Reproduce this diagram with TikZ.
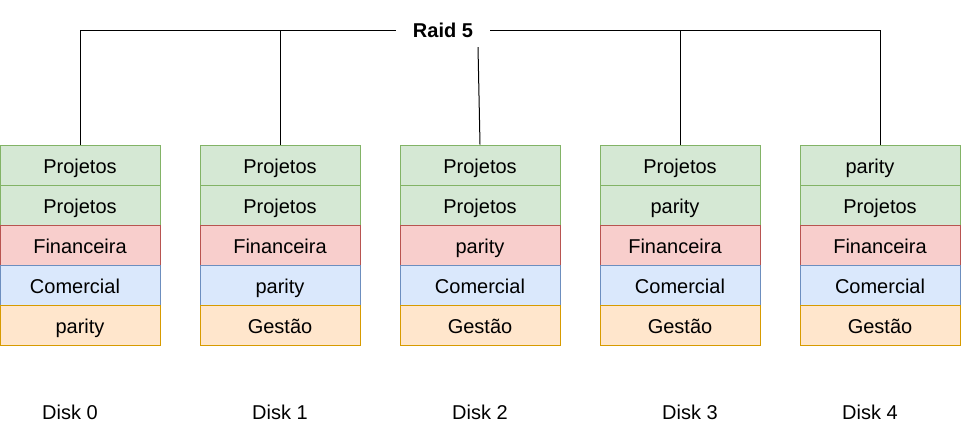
\documentclass[tikz,border=0pt]{standalone}
\usepackage{fontspec}
\setmainfont{Liberation Sans}
\definecolor{gfill}{HTML}{D5E8D4}\definecolor{gline}{HTML}{82B366}
\definecolor{rfill}{HTML}{F8CECC}\definecolor{rline}{HTML}{B85450}
\definecolor{bfill}{HTML}{DAE8FC}\definecolor{bline}{HTML}{6C8EBF}
\definecolor{ofill}{HTML}{FFE6CC}\definecolor{oline}{HTML}{D79B00}
\begin{document}
\begin{tikzpicture}[x=1pt,y=-1pt,
  every node/.style={font=\fontsize{20}{24}\selectfont, inner sep=0pt},
  cell/.style={rectangle, minimum width=160pt, minimum height=40pt, line width=1pt, text height=20pt, text depth=4pt},
  grn/.style={cell, fill=gfill, draw=gline},
  red/.style={cell, fill=rfill, draw=rline},
  blu/.style={cell, fill=bfill, draw=bline},
  org/.style={cell, fill=ofill, draw=oline},
  disklbl/.style={text height=20pt, text depth=4pt},
  wire/.style={line width=1pt, draw=black}]
\useasboundingbox (0,0) rectangle (961,426);
% Disk 0
\node[grn] (c0-0) at (80,165) {Projetos};
\node[grn] (c0-1) at (80,205) {Projetos};
\node[red] (c0-2) at (80,245) {Financeira};
\node[blu] (c0-3) at (80,285) {\hspace*{-10pt}Comercial};
\node[org] (c0-4) at (80,325) {parity};
% Disk 1
\node[grn] (c1-0) at (280,165) {Projetos};
\node[grn] (c1-1) at (280,205) {Projetos};
\node[red] (c1-2) at (280,245) {Financeira};
\node[blu] (c1-3) at (280,285) {parity};
\node[org] (c1-4) at (280,325) {Gestão};
% Disk 2
\node[grn] (c2-0) at (480,165) {Projetos};
\node[grn] (c2-1) at (480,205) {Projetos};
\node[red] (c2-2) at (480,245) {parity};
\node[blu] (c2-3) at (480,285) {Comercial};
\node[org] (c2-4) at (480,325) {Gestão};
% Disk 3
\node[grn] (c3-0) at (680,165) {Projetos};
\node[grn] (c3-1) at (680,205) {\hspace*{-10pt}parity};
\node[red] (c3-2) at (680,245) {\hspace*{-10pt}Financeira};
\node[blu] (c3-3) at (680,285) {Comercial};
\node[org] (c3-4) at (680,325) {Gestão};
% Disk 4
\node[grn] (c4-0) at (880,165) {\hspace*{-20pt}parity};
\node[grn] (c4-1) at (880,205) {Projetos};
\node[red] (c4-2) at (880,245) {Financeira};
\node[blu] (c4-3) at (880,285) {Comercial};
\node[org] (c4-4) at (880,325) {Gestão};
% Disk labels
\node[disklbl] (d0) at (70,411) {Disk 0};
\node[disklbl] (d1) at (280,411) {Disk 1};
\node[disklbl] (d2) at (480,411) {Disk 2};
\node[disklbl] (d3) at (690,411) {Disk 3};
\node[disklbl] (d4) at (870,411) {Disk 4};
% Raid label
\node[minimum width=94pt, minimum height=34pt, font=\fontsize{20}{24}\selectfont\bfseries] (raid) at (443,30) {Raid 5};
% Wires
\draw[wire] (c0-0.north) |- (raid.west);
\draw[wire] (c1-0.north) -- (c1-0.north |- raid.west);
\draw[wire] (c4-0.north) |- (raid.east);
\draw[wire] (c3-0.north) -- (c3-0.north |- raid.east);
\draw[wire] ([xshift=35pt]raid.south) -- (c2-0.north);
\end{tikzpicture}
\end{document}
